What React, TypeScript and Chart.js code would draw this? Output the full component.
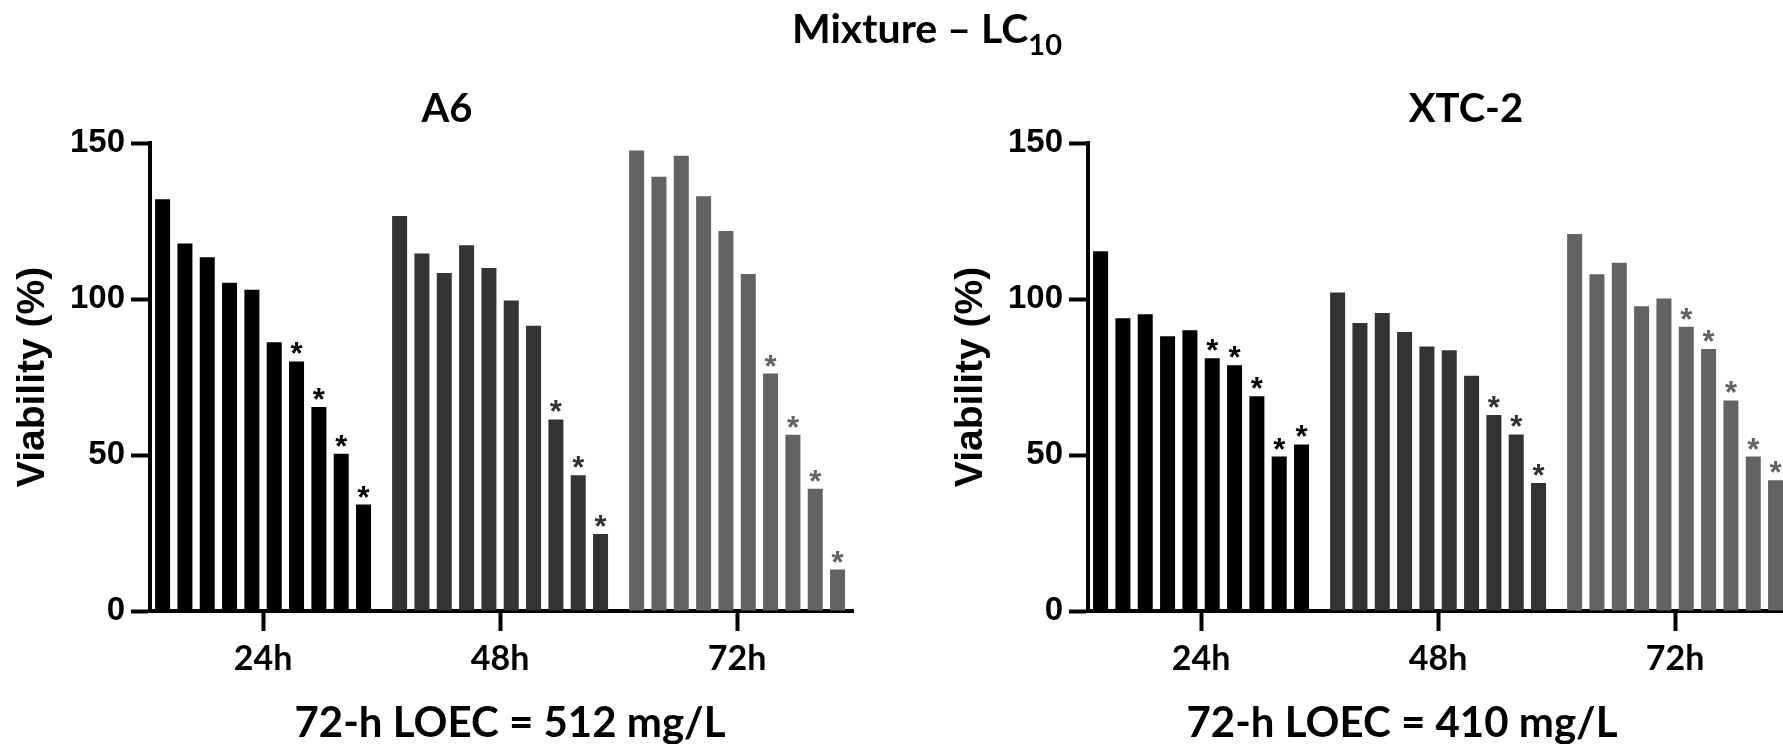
import React, { useEffect, useRef } from 'react';
import { Chart, registerables } from 'chart.js';

Chart.register(...registerables);

// ---- data ----
const timeLabels = ['24h', '48h', '72h'];
const yTickValues = [0, 50, 100, 150];
const groupColors = ['#000000', '#333333', '#636363'];

// A6 cell line – viability (%) for 10 increasing concentrations
const a6_24h = [132, 117.8, 113.4, 105.2, 103, 86.1, 80, 65.4, 50.4, 34.1];
const a6_48h = [126.6, 114.6, 108.3, 117.2, 109.9, 99.5, 91.4, 61.4, 43.5, 24.7];
const a6_72h = [147.6, 139.2, 145.9, 132.9, 121.8, 108, 76.1, 56.5, 39.2, 13.3];
const a6Sig_24h = [0, 0, 0, 0, 0, 0, 1, 1, 1, 1];
const a6Sig_48h = [0, 0, 0, 0, 0, 0, 0, 1, 1, 1];
const a6Sig_72h = [0, 0, 0, 0, 0, 0, 1, 1, 1, 1];

// XTC-2 cell line
const xtc_24h = [115.3, 93.8, 95.1, 88.1, 90, 81, 78.8, 68.8, 49.5, 53.4];
const xtc_48h = [102.1, 92.3, 95.5, 89.4, 84.8, 83.6, 75.4, 62.8, 56.6, 41];
const xtc_72h = [120.8, 107.9, 111.6, 97.7, 100.2, 91.1, 84, 67.5, 49.5, 41.9];
const xtcSig_24h = [0, 0, 0, 0, 0, 1, 1, 1, 1, 1];
const xtcSig_48h = [0, 0, 0, 0, 0, 0, 0, 1, 1, 1];
const xtcSig_72h = [0, 0, 0, 0, 0, 1, 1, 1, 1, 1];

const mainTitle = 'Mixture \u2013 LC';
const mainTitleSub = '10';
const a6Title = 'A6';
const xtcTitle = 'XTC-2';
const a6Loec = '72-h LOEC = 512 mg/L';
const xtcLoec = '72-h LOEC = 410 mg/L';
const yAxisTitle = 'Viability (%)';

const ASTERISK_SIZE = 31;

const asteriskPlugin = {
  id: 'asterisks',
  afterDatasetsDraw(chart: any) {
    const ctx = chart.ctx;
    ctx.save();
    ctx.font = `bold ${ASTERISK_SIZE}px "Liberation Sans", Arial, sans-serif`;
    ctx.textAlign = 'center';
    ctx.textBaseline = 'alphabetic';
    chart.data.datasets.forEach((ds: any, i: number) => {
      const meta = chart.getDatasetMeta(i);
      meta.data.forEach((el: any, j: number) => {
        if (ds.sig && ds.sig[j]) {
          ctx.fillStyle = groupColors[j];
          ctx.fillText('*', el.x, el.y + 3);
        }
      });
    });
    ctx.restore();
  },
};

function Panel({ series, sig, left }: { series: number[][]; sig: number[][]; left: number }) {
  const ref = useRef<HTMLCanvasElement | null>(null);
  useEffect(() => {
    if (!ref.current) return;
    const nBars = series[0].length;
    const datasets = Array.from({ length: nBars }, (_, k) => ({
      label: `C${k + 1}`,
      data: series.map((arr) => arr[k]),
      sig: sig.map((s) => s[k]),
      backgroundColor: groupColors,
      borderWidth: 0,
      categoryPercentage: 0.942,
      barPercentage: 0.672,
    }));
    const chart = new Chart(ref.current, {
      type: 'bar',
      data: { labels: timeLabels, datasets: datasets as any },
      plugins: [asteriskPlugin],
      options: {
        animation: false,
        responsive: false,
        devicePixelRatio: 1,
        layout: { padding: { top: 143, right: 27, left: 0, bottom: 0 } },
        plugins: { legend: { display: false }, tooltip: { enabled: false }, title: { display: false } },
        scales: {
          x: {
            type: 'category',
            offset: true,
            grid: {
              offset: false,
              drawOnChartArea: false,
              drawTicks: true,
              tickLength: 20,
              tickWidth: 4,
              tickColor: '#000',
              color: '#000',
            },
            border: { display: true, color: '#000', width: 4 },
            ticks: {
              color: '#000',
              font: { family: 'Lato', weight: 'bold', size: 34 },
              padding: 8,
              maxRotation: 0,
              autoSkip: false,
            },
            afterBuildTicks: (s: any) => {
              s._startValue = -0.477;
              s._valueRange = 2.966;
            },
            afterFit: (s: any) => {
              s.height = 89;
            },
          },
          y: {
            min: 0,
            max: 150,
            grid: {
              drawOnChartArea: false,
              drawTicks: true,
              tickLength: 19,
              tickWidth: 4,
              tickColor: '#000',
              color: '#000',
            },
            border: { display: true, color: '#000', width: 4 },
            ticks: {
              color: '#000',
              font: { family: '"Liberation Sans"', weight: 'bold', size: 33 },
              padding: 6,
            },
            afterBuildTicks: (s: any) => {
              s.ticks = yTickValues.map((v) => ({ value: v }));
            },
            title: {
              display: true,
              text: yAxisTitle,
              color: '#000',
              font: { family: '"Liberation Sans"', weight: 'bold', size: 39 },
              padding: { top: 10, bottom: 0 },
            },
            afterFit: (s: any) => {
              s.width = 150;
            },
          },
        },
      } as any,
    });
    return () => chart.destroy();
  }, []);
  return (
    <canvas
      ref={ref}
      width={880}
      height={700}
      style={{ position: 'absolute', left, top: 0, width: 880, height: 700 }}
    />
  );
}

const textBase: React.CSSProperties = {
  position: 'absolute',
  fontFamily: 'Lato, "Open Sans", sans-serif',
  fontWeight: 700,
  lineHeight: 1,
  color: '#000',
  whiteSpace: 'nowrap',
  textAlign: 'center',
  width: 600,
};

export default function App() {
  return (
    <div
      style={{
        position: 'absolute',
        left: 0,
        top: 0,
        width: 1783,
        height: 744,
        overflow: 'hidden',
        background: '#fff',
      }}
    >
      <Panel series={[a6_24h, a6_48h, a6_72h]} sig={[a6Sig_24h, a6Sig_48h, a6Sig_72h]} left={0} />
      <Panel series={[xtc_24h, xtc_48h, xtc_72h]} sig={[xtcSig_24h, xtcSig_48h, xtcSig_72h]} left={938} />
      <div style={{ ...textBase, fontSize: 41, top: 7, left: 792, width: 'auto', textAlign: 'left' }}>
        {mainTitle}
        <span style={{ fontSize: 29, position: 'relative', top: 12 }}>{mainTitleSub}</span>
      </div>
      <div style={{ ...textBase, fontSize: 40, top: 86.5, left: 447 - 300 }}>{a6Title}</div>
      <div style={{ ...textBase, fontSize: 40, top: 86.5, left: 1466 - 300 }}>{xtcTitle}</div>
      <div style={{ ...textBase, fontSize: 42, top: 700, left: 510 - 300 }}>{a6Loec}</div>
      <div style={{ ...textBase, fontSize: 42, top: 700, left: 1402 - 300 }}>{xtcLoec}</div>
    </div>
  );
}
